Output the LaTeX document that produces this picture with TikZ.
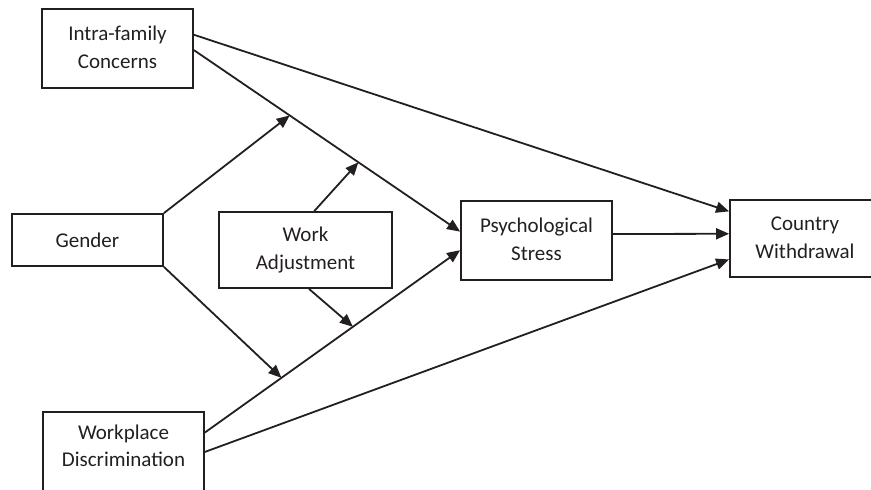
\documentclass[tikz,border=0pt]{standalone}
\usepackage{fontspec}
\setmainfont{Carlito}
\usetikzlibrary{arrows.meta,calc}
\definecolor{ink}{HTML}{231F20}
\begin{document}
\begin{tikzpicture}[x=1pt,y=-1pt,
  box/.style={draw=ink,text=ink,line width=1.8pt,inner sep=0pt,align=center,font=\fontsize{21}{27.5}\selectfont},
  lbl/.style={text=ink,inner sep=0pt,align=center,font=\fontsize{21}{27.5}\selectfont},
  conn/.style={draw=ink,line width=1.8pt,-{Triangle[length=13pt,width=11pt]}}]
\useasboundingbox (0,0) rectangle (871,490);
\clip (0,0) rectangle (871,490);
\node[box,minimum width=151pt,minimum height=79pt] (ic) at (117.5,48.5) {\raisebox{2pt}{\begin{tabular}{@{}c@{}}Intra-family\\[0.5pt]Concerns\end{tabular}}};
\node[box,minimum width=151pt,minimum height=52pt] (ge) at (87.5,240) {Gender};
\node[box,minimum width=173pt,minimum height=76pt] (wa) at (305.5,250) {Work\\Adjustment};
\node[box,minimum width=151pt,minimum height=79pt] (ps) at (536.5,240.5) {\raisebox{2pt}{\begin{tabular}{@{}c@{}}Psychological\\[0.5pt]Stress\end{tabular}}};
\node[box,minimum width=150pt,minimum height=77pt] (cw) at (805,238.5) {\raisebox{1pt}{\begin{tabular}{@{}c@{}}Country\\[0.5pt]Withdrawal\end{tabular}}};
\node[draw=ink,line width=1.8pt,inner sep=0pt,minimum width=161pt,minimum height=86pt] (wd) at (123.5,455) {};
\node[lbl] (wdt) at (123.5,446) {Workplace\\Discrimination};
% anchor points on boxes
\coordinate (icA) at ($(ic.north east)!0.33!(ic.south east)$);
\coordinate (icB) at ($(ic.north east)!0.52!(ic.south east)$);
\coordinate (cwA) at ($(cw.north west)!0.156!(cw.south west)$);
\coordinate (cwB) at ($(cw.north west)!0.44!(cw.south west)$);
\coordinate (cwC) at ($(cw.north west)!0.766!(cw.south west)$);
\coordinate (psA) at ($(ps.north west)!0.39!(ps.south west)$);
\coordinate (psB) at ($(ps.north west)!0.62!(ps.south west)$);
\coordinate (psE) at ($(ps.north east)!0.42!(ps.south east)$);
\coordinate (wdA) at ($(wd.north east)!0.244!(wd.south east)$);
\coordinate (wdB) at ($(wd.north east)!0.465!(wd.south east)$);
\coordinate (waT) at ($(wa.north west)!0.55!(wa.north east)$);
\coordinate (waB) at ($(wa.south west)!0.52!(wa.south east)$);
% points on paths
\coordinate (m1) at ($(icB)!0.36!(psA)$);
\coordinate (m2) at ($(icB)!0.618!(psA)$);
\coordinate (m3) at ($(wdA)!0.30!(psB)$);
\coordinate (m4) at ($(wdA)!0.58!(psB)$);
% connectors
\draw[conn] (icA) -- (cwA);
\draw[conn] (icB) -- (psA);
\draw[conn] (psE) -- (cwB);
\draw[conn] (wdA) -- (psB);
\draw[conn] (wdB) -- (cwC);
\draw[conn] (ge.north east) -- (m1);
\draw[conn] (ge.south east) -- (m3);
\draw[conn] (waT) -- (m2);
\draw[conn] (waB) -- (m4);
\end{tikzpicture}
\end{document}
